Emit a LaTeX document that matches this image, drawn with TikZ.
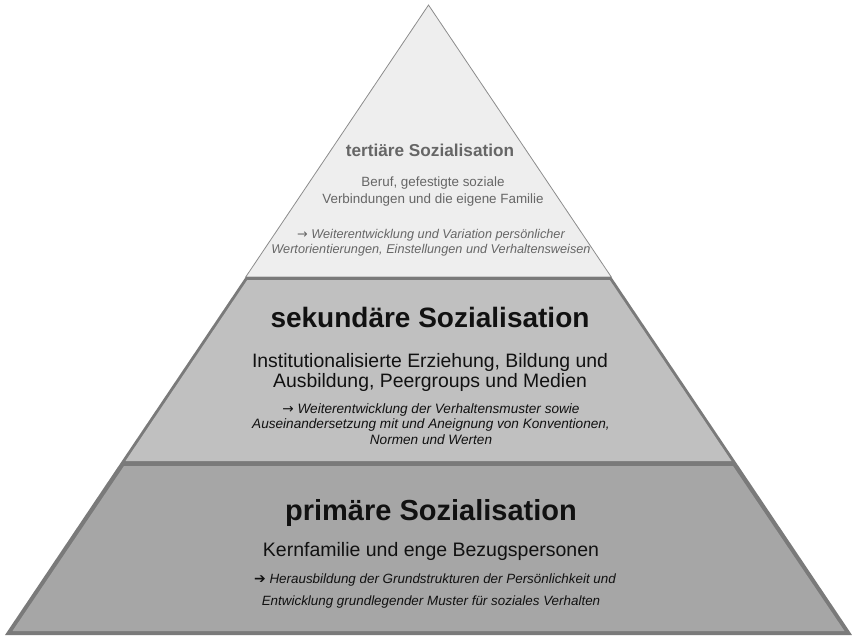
\documentclass[tikz,border=0pt]{standalone}
\usepackage{fontspec}
\setmainfont{Liberation Sans}
\newfontfamily\dejavu{DejaVu Sans}
\newcommand{\rarr}{{\dejavu\upshape →}}
\definecolor{topfill}{HTML}{EEEEEE}
\definecolor{topline}{HTML}{8C8C8C}
\definecolor{midfill}{HTML}{C0C0C0}
\definecolor{botfill}{HTML}{A6A6A6}
\definecolor{bandline}{HTML}{7A7A7A}
\definecolor{graytext}{HTML}{666666}
\definecolor{darktext}{HTML}{111111}
\tikzset{
  line/.style={anchor=base, inner sep=0pt, align=center},
  graytxt/.style={line, text=graytext},
  blacktxt/.style={line, text=darktext},
}
\begin{document}
\begin{tikzpicture}[x=1pt,y=-1pt]
\useasboundingbox (0,0) rectangle (852,637);
% top triangle
\fill[topfill, draw=topline, line width=0.8pt] (428.5,5) -- (245.7,277) -- (611.3,277) -- cycle;
% middle band
\fill[bandline] (245.7,277) -- (611.3,277) -- (736.4,463) -- (120.6,463) -- cycle;
\fill[midfill] (247.2,280) -- (609.8,280) -- (731.5,461) -- (125.5,461) -- cycle;
% bottom band
\fill[bandline] (120.6,463) -- (736.4,463) -- (852,635) -- (5,635) -- cycle;
\fill[botfill] (124.0,466) -- (733.0,466) -- (844.5,631) -- (12.5,631) -- cycle;
% tertiary texts
\node[graytxt, font=\fontsize{17.2}{20}\selectfont\bfseries] (t1) at (430,156) {tertiäre Sozialisation};
\node[graytxt, font=\fontsize{13.4}{16}\selectfont] (t2) at (433,186) {Beruf, gefestigte soziale};
\node[graytxt, font=\fontsize{13.4}{16}\selectfont] (t3) at (433,203) {Verbindungen und die eigene Familie};
\node[graytxt, font=\fontsize{12.7}{15}\selectfont\itshape] (t4) at (431,238) {\rarr\ Weiterentwicklung und Variation persönlicher};
\node[graytxt, font=\fontsize{12.7}{15}\selectfont\itshape] (t5) at (431,253) {Wertorientierungen, Einstellungen und Verhaltensweisen};
% secondary texts
\node[blacktxt, font=\fontsize{28}{32}\selectfont\bfseries] (s1) at (430,327) {sekundäre Sozialisation};
\node[blacktxt, font=\fontsize{19.4}{23}\selectfont] (s2) at (430,367) {Institutionalisierte Erziehung, Bildung und};
\node[blacktxt, font=\fontsize{19.4}{23}\selectfont] (s3) at (430,387) {Ausbildung, Peergroups und Medien};
\node[blacktxt, font=\fontsize{13.6}{16}\selectfont\itshape] (s4) at (431,413) {\rarr\ Weiterentwicklung der Verhaltensmuster sowie};
\node[blacktxt, font=\fontsize{13.6}{16}\selectfont\itshape] (s5) at (431,428) {Auseinandersetzung mit und Aneignung von Konventionen,};
\node[blacktxt, font=\fontsize{13.6}{16}\selectfont\itshape] (s6) at (431,444) {Normen und Werten};
% primary texts
\node[blacktxt, font=\fontsize{29}{33}\selectfont\bfseries] (p1) at (431,520) {primäre Sozialisation};
\node[blacktxt, font=\fontsize{19.5}{23}\selectfont] (p2) at (431,556) {Kernfamilie und enge Bezugspersonen};
\node[blacktxt, font=\fontsize{13.4}{16}\selectfont\itshape] (p3) at (435,583) {{\dejavu\upshape\fontsize{14}{16}\selectfont ➔} Herausbildung der Grundstrukturen der Persönlichkeit und};
\node[blacktxt, font=\fontsize{13.4}{16}\selectfont\itshape] (p4) at (431,605) {Entwicklung grundlegender Muster für soziales Verhalten};
\end{tikzpicture}
\end{document}
